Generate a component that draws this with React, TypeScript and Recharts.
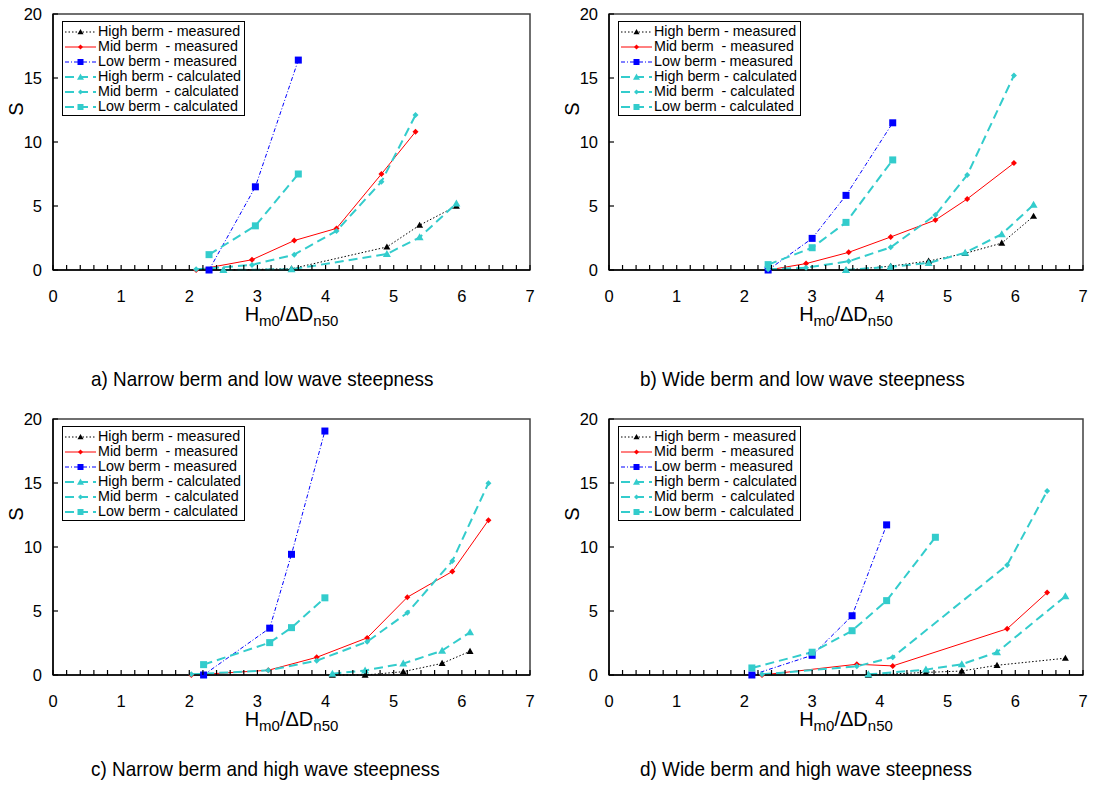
import React from 'react';
import { LineChart, Line, XAxis, YAxis, ReferenceArea } from 'recharts';

type Pt = [number, number];

// ---------- Data: panel a) Narrow berm and low wave steepness ----------
const aHighMeasured: Pt[] = [[2.5, 0], [3.5, 0.1], [4.9, 1.8], [5.38, 3.5], [5.92, 5.0]];
const aMidMeasured: Pt[] = [[2.1, 0], [2.92, 0.8], [3.54, 2.3], [4.16, 3.25], [4.82, 7.5], [5.32, 10.8]];
const aLowMeasured: Pt[] = [[2.29, 0], [2.97, 6.5], [3.6, 16.4]];
const aHighCalculated: Pt[] = [[2.5, 0], [3.5, 0.05], [4.9, 1.25], [5.38, 2.55], [5.92, 5.2]];
const aMidCalculated: Pt[] = [[2.1, 0.05], [2.92, 0.4], [3.54, 1.2], [4.16, 3.05], [4.82, 6.9], [5.32, 12.1]];
const aLowCalculated: Pt[] = [[2.29, 1.2], [2.97, 3.45], [3.6, 7.5]];

// ---------- Data: panel b) Wide berm and low wave steepness ----------
const bHighMeasured: Pt[] = [[3.5, 0], [4.16, 0.3], [4.72, 0.7], [5.26, 1.3], [5.8, 2.1], [6.27, 4.2]];
const bMidMeasured: Pt[] = [[2.35, 0], [2.91, 0.5], [3.54, 1.38], [4.16, 2.58], [4.82, 3.9], [5.29, 5.55], [5.98, 8.35]];
const bLowMeasured: Pt[] = [[2.35, 0], [3.0, 2.47], [3.5, 5.83], [4.19, 11.5]];
const bHighCalculated: Pt[] = [[3.5, 0], [4.16, 0.25], [4.72, 0.55], [5.26, 1.35], [5.8, 2.8], [6.27, 5.1]];
const bMidCalculated: Pt[] = [[2.35, 0.05], [2.91, 0.18], [3.54, 0.68], [4.16, 1.77], [4.82, 4.3], [5.29, 7.42], [5.98, 15.2]];
const bLowCalculated: Pt[] = [[2.35, 0.42], [3.0, 1.74], [3.5, 3.72], [4.19, 8.6]];

// ---------- Data: panel c) Narrow berm and high wave steepness ----------
const cHighMeasured: Pt[] = [[4.1, 0], [4.58, 0], [5.14, 0.26], [5.71, 0.91], [6.12, 1.85]];
const cMidMeasured: Pt[] = [[2.03, 0], [3.16, 0.37], [3.87, 1.38], [4.61, 2.9], [5.2, 6.08], [5.86, 8.09], [6.39, 12.09]];
const cLowMeasured: Pt[] = [[2.21, 0], [3.18, 3.66], [3.5, 9.43], [3.99, 19.06]];
const cHighCalculated: Pt[] = [[4.1, 0.1], [4.58, 0.36], [5.14, 0.89], [5.71, 1.9], [6.12, 3.34]];
const cMidCalculated: Pt[] = [[2.03, 0.05], [3.16, 0.37], [3.87, 1.12], [4.61, 2.6], [5.2, 4.86], [5.86, 8.9], [6.39, 14.99]];
const cLowCalculated: Pt[] = [[2.21, 0.81], [3.18, 2.53], [3.5, 3.7], [3.99, 6.03]];

// ---------- Data: panel d) Wide berm and high wave steepness ----------
const dHighMeasured: Pt[] = [[3.83, 0], [4.68, 0.2], [5.21, 0.31], [5.73, 0.76], [6.74, 1.31]];
const dMidMeasured: Pt[] = [[2.26, 0], [3.66, 0.84], [4.19, 0.71], [5.88, 3.61], [6.47, 6.44]];
const dLowMeasured: Pt[] = [[2.11, 0], [3.0, 1.54], [3.59, 4.63], [4.1, 11.73]];
const dHighCalculated: Pt[] = [[3.83, 0.05], [4.68, 0.42], [5.21, 0.84], [5.73, 1.78], [6.74, 6.15]];
const dMidCalculated: Pt[] = [[2.26, 0.05], [3.66, 0.68], [4.19, 1.39], [5.88, 8.59], [6.47, 14.37]];
const dLowCalculated: Pt[] = [[2.11, 0.55], [3.0, 1.78], [3.59, 3.46], [4.1, 5.81], [4.82, 10.76]];

// ---------- Labels ----------
const seriesNames = [
  'High berm - measured',
  'Mid berm  - measured',
  'Low berm - measured',
  'High berm - calculated',
  'Mid berm  - calculated',
  'Low berm - calculated',
];
const captions = [
  'a) Narrow berm and low wave steepness',
  'b) Wide berm and low wave steepness',
  'c) Narrow berm and high wave steepness',
  'd) Wide berm and high wave steepness',
];
const xMajorTicks = [0, 1, 2, 3, 4, 5, 6, 7];
const xTicks = Array.from({ length: 36 }, (_, i) => Math.round(i * 2) / 10);
const yTicks = [0, 5, 10, 15, 20];

// ---------- Styles ----------
const FONT = '"Liberation Sans", Arial, sans-serif';
const CYAN = '#33cccc';
type Shape = 'triangle' | 'diamond' | 'square';
const seriesStyles: { color: string; dash?: string; width: number; shape: Shape; size: number }[] = [
  { color: '#000000', dash: '1.5 2', width: 1, shape: 'triangle', size: 7 },
  { color: '#ff0000', dash: undefined, width: 1, shape: 'diamond', size: 6 },
  { color: '#0000ff', dash: '4 2 1 2', width: 1, shape: 'square', size: 7 },
  { color: CYAN, dash: '9 5', width: 2, shape: 'triangle', size: 8 },
  { color: CYAN, dash: '9 5', width: 2, shape: 'diamond', size: 6 },
  { color: CYAN, dash: '9 5', width: 2, shape: 'square', size: 7 },
];

const panels = [
  { series: [aHighMeasured, aMidMeasured, aLowMeasured, aHighCalculated, aMidCalculated, aLowCalculated], left: 0, top: 0, width: 547, right: 17 },
  { series: [bHighMeasured, bMidMeasured, bLowMeasured, bHighCalculated, bMidCalculated, bLowCalculated], left: 556, top: 0, width: 538, right: 11 },
  { series: [cHighMeasured, cMidMeasured, cLowMeasured, cHighCalculated, cMidCalculated, cLowCalculated], left: 0, top: 405, width: 547, right: 17 },
  { series: [dHighMeasured, dMidMeasured, dLowMeasured, dHighCalculated, dMidCalculated, dLowCalculated], left: 556, top: 405, width: 538, right: 11 },
];

const toPoints = (arr: Pt[]) => arr.map(([x, s]) => ({ x, s }));

function Marker({ cx, cy, shape, color, size }: { cx?: number; cy?: number; shape: Shape; color: string; size: number }) {
  if (cx == null || cy == null || isNaN(cx) || isNaN(cy)) return null;
  const h = size / 2;
  if (shape === 'square') return <rect x={cx - h} y={cy - h} width={size} height={size} fill={color} />;
  if (shape === 'diamond')
    return <polygon points={`${cx},${cy - h} ${cx + h},${cy} ${cx},${cy + h} ${cx - h},${cy}`} fill={color} />;
  return <polygon points={`${cx},${cy - h} ${cx + h},${cy + h * 0.75} ${cx - h},${cy + h * 0.75}`} fill={color} />;
}

function XTick(props: any) {
  const { x, y, payload } = props;
  const v = payload.value as number;
  const major = xMajorTicks.some((m) => Math.abs(m - v) < 1e-6);
  return (
    <g>
      <line x1={x} x2={x} y1={y} y2={y - 5} stroke="#000" strokeWidth={1.2} />
      {major && (
        <text x={x} y={y + 32} textAnchor="middle" fontSize={16.5} fontFamily={FONT} fill="#000">
          {Math.round(v)}
        </text>
      )}
    </g>
  );
}

function YTick(props: any) {
  const { x, y, payload } = props;
  return (
    <g>
      <line x1={x} x2={x + 5} y1={y} y2={y} stroke="#000" strokeWidth={1.2} />
      <text x={x - 11} y={y + 6} textAnchor="end" fontSize={16.5} fontFamily={FONT} fill="#000">
        {payload.value}
      </text>
    </g>
  );
}

function XLabel(props: any) {
  const vb = props.viewBox || {};
  const cx = vb.x + vb.width / 2;
  const y = vb.y + 51;
  return (
    <text x={cx} y={y} textAnchor="middle" fontSize={20} fontFamily={FONT} fill="#000">
      <tspan>H</tspan>
      <tspan fontSize={15} dy={5}>m0</tspan>
      <tspan dy={-5}>/ΔD</tspan>
      <tspan fontSize={15} dy={5}>n50</tspan>
    </text>
  );
}

function YLabel(props: any) {
  const vb = props.viewBox || {};
  const x = vb.x + 23;
  const y = vb.y + 95;
  return (
    <text x={x} y={y} transform={`rotate(-90 ${x} ${y})`} textAnchor="middle" fontSize={20} fontFamily={FONT} fill="#000">
      S
    </text>
  );
}

function LegendBox({ left, top }: { left: number; top: number }) {
  return (
    <div
      style={{
        position: 'absolute',
        left,
        top,
        border: '1px solid #000',
        background: '#fff',
        padding: '2px 3px 1px 1px',
        fontFamily: FONT,
        fontSize: 14,
        color: '#000',
      }}
    >
      {seriesNames.map((name, i) => {
        const st = seriesStyles[i];
        return (
          <div key={name} style={{ display: 'flex', alignItems: 'center', height: 15, whiteSpace: 'pre' }}>
            <svg width={33} height={12} style={{ flex: 'none' }}>
              <line x1={1} x2={32} y1={6} y2={6} stroke={st.color} strokeWidth={st.width} strokeDasharray={st.dash} />
              <Marker cx={16.5} cy={6} shape={st.shape} color={st.color} size={st.size - 1} />
            </svg>
            <span style={{ marginLeft: 1, lineHeight: '15px', fontSize: 14.3 }}>{name}</span>
          </div>
        );
      })}
    </div>
  );
}

function Panel({ idx }: { idx: number }) {
  const p = panels[idx];
  return (
    <div style={{ position: 'absolute', left: p.left, top: p.top, width: p.width, height: 340 }}>
      <LineChart width={p.width} height={340} margin={{ top: 14, right: p.right, left: 0, bottom: 0 }}>
        <XAxis
          type="number"
          dataKey="x"
          domain={[0, 7]}
          ticks={xTicks}
          interval={0}
          tickSize={0}
          tickMargin={0}
          tickLine={false}
          tick={<XTick />}
          height={70}
          axisLine={{ stroke: '#000', strokeWidth: 1.5 }}
          label={{ content: <XLabel /> } as any}
        />
        <YAxis
          type="number"
          dataKey="s"
          domain={[0, 20]}
          ticks={yTicks}
          interval={0}
          tickSize={0}
          tickMargin={0}
          tickLine={false}
          tick={<YTick />}
          width={53}
          axisLine={{ stroke: '#000', strokeWidth: 1.5 }}
          label={{ content: <YLabel /> } as any}
        />
        <ReferenceArea x1={0} x2={7} y1={0} y2={20} fill="none" fillOpacity={0} stroke="#404040" strokeWidth={1.5} ifOverflow="visible" />
        {p.series.map((arr, i) => {
          const st = seriesStyles[i];
          return (
            <Line
              key={seriesNames[i]}
              name={seriesNames[i]}
              data={toPoints(arr)}
              dataKey="s"
              type="linear"
              stroke={st.color}
              strokeWidth={st.width}
              strokeDasharray={st.dash}
              isAnimationActive={false}
              activeDot={false}
              dot={(dp: any) => (
                <Marker key={`m${i}-${dp.index}`} cx={dp.cx} cy={dp.cy} shape={st.shape} color={st.color} size={st.size} />
              )}
            />
          );
        })}
      </LineChart>
      <LegendBox left={62} top={21} />
    </div>
  );
}

const captionPos = [
  { left: 91, top: 367 },
  { left: 640, top: 367 },
  { left: 91, top: 757 },
  { left: 640, top: 757 },
];

export default function App() {
  return (
    <div style={{ position: 'absolute', left: 0, top: 0, width: 1094, height: 785, background: '#fff', overflow: 'hidden' }}>
      {panels.map((_, i) => (
        <Panel key={i} idx={i} />
      ))}
      {captions.map((c, i) => (
        <div
          key={c}
          style={{
            position: 'absolute',
            left: captionPos[i].left,
            top: captionPos[i].top,
            fontFamily: FONT,
            fontSize: 21,
            color: '#000',
            whiteSpace: 'pre',
            transform: 'scaleX(0.9)',
            transformOrigin: 'left top',
          }}
        >
          {c}
        </div>
      ))}
    </div>
  );
}
